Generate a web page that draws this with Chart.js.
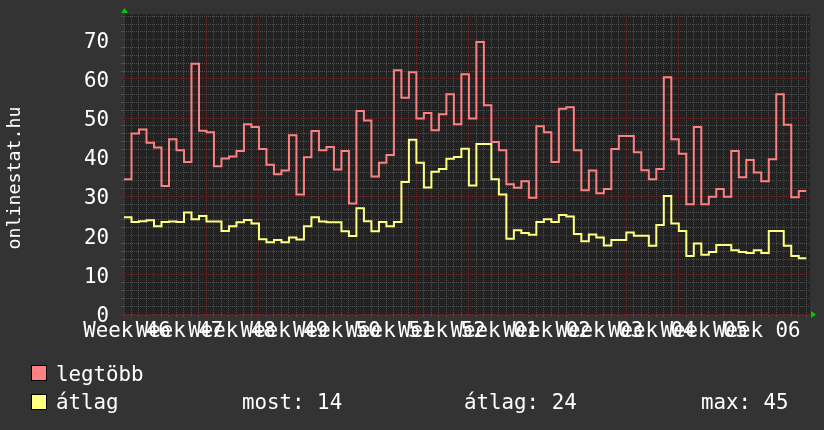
<!DOCTYPE html>
<html>
<head>
<meta charset="utf-8">
<script src="https://cdn.jsdelivr.net/npm/chart.js@4.4.1/dist/chart.umd.min.js"></script>
<style>
    html, body { margin: 0; padding: 0; background: #333333; }
    #wrap { position: relative; width: 824px; height: 430px; background: #333333; overflow: hidden;
            font-family: 'DejaVu Sans Mono', monospace; color: #ffffff; }
    #statChart { position: absolute; left: 0; top: 0; }
    .txt { position: absolute; font-size: 20.8px; line-height: 24px; white-space: pre; }
    .box { position: absolute; width: 16px; height: 16px; box-sizing: border-box; border: 1px solid #000; }
    #ytitle { position: absolute; left: -86px; top: 166px; width: 200px; height: 24px; line-height: 24px;
              text-align: center; font-size: 18.3px; transform: rotate(-90deg); white-space: pre; }
</style>
</head>
<body>
<div id="wrap">
    <canvas id="statChart" width="824" height="345"></canvas>
    <div id="ytitle">onlinestat.hu</div>
    <div class="box" style="left:31px; top:365px; background:#ff8080;"></div>
    <div class="txt" style="left:56px; top:361.5px;">legtöbb</div>
    <div class="box" style="left:31px; top:394px; background:#ffff80;"></div>
    <div class="txt" style="left:56px; top:390px;">átlag</div>
    <div class="txt" style="left:242px; top:390px;" id="most"></div>
    <div class="txt" style="left:464px; top:390px;" id="atlag"></div>
    <div class="txt" style="left:701px; top:390px;" id="max"></div>
</div>
<script>
// napi értékek (91 nap)
const legtobb = [
    34.4, 46.1, 47.1, 43.7, 42.5, 32.7, 44.6, 41.8, 38.8, 63.9,
    46.8, 46.4, 37.7, 39.7, 40.2, 41.6, 48.4, 47.7, 42.1, 38.1,
    35.7, 36.6, 45.6, 30.5, 40.0, 46.7, 41.8, 42.6, 36.9, 41.6,
    28.2, 51.8, 49.4, 35.1, 38.6, 40.6, 62.2, 55.2, 61.7, 49.9,
    51.3, 46.9, 51.0, 56.1, 48.4, 61.2, 49.9, 69.4, 53.3, 43.9,
    41.8, 33.1, 32.2, 33.9, 29.7, 47.9, 46.4, 38.8, 52.4, 52.8,
    41.8, 31.6, 36.6, 30.8, 31.9, 42.1, 45.4, 45.4, 41.3, 36.7,
    34.4, 37.0, 60.4, 44.6, 40.9, 28.0, 47.7, 28.0, 29.9, 31.9,
    29.9, 41.6, 34.9, 39.3, 36.1, 33.9, 39.5, 56.1, 48.3, 29.8,
    31.4
];
const atlag = [
    24.7, 23.5, 23.7, 23.9, 22.4, 23.5, 23.6, 23.5, 25.9, 24.2,
    25.0, 23.6, 23.6, 21.2, 22.4, 23.4, 24.0, 23.1, 19.1, 18.3,
    18.9, 18.3, 19.5, 19.0, 22.4, 24.7, 23.6, 23.4, 23.4, 21.1,
    19.9, 27.0, 23.7, 21.1, 23.5, 22.4, 23.5, 33.7, 44.5, 38.6,
    32.3, 36.3, 37.0, 39.6, 40.1, 42.2, 32.8, 43.4, 43.4, 34.4,
    30.5, 19.2, 21.4, 20.7, 20.2, 23.5, 24.2, 23.5, 25.3, 24.9,
    20.4, 18.6, 20.3, 19.5, 17.5, 18.9, 18.9, 20.8, 20.0, 20.0,
    17.4, 22.7, 30.1, 23.1, 21.2, 14.8, 18.0, 15.1, 15.8, 17.6,
    17.6, 16.3, 15.8, 15.6, 16.3, 15.6, 21.2, 21.2, 17.4, 14.8,
    14.2
];
const weekLabels = ['Week 46', 'Week 47', 'Week 48', 'Week 49', 'Week 50', 'Week 51', 'Week 52',
                    'Week 01', 'Week 02', 'Week 03', 'Week 04', 'Week 05', 'Week 06'];
const yTicks = [0, 10, 20, 30, 40, 50, 60, 70];
const summary = { most: 14, atlag: 24, max: 45 };

document.getElementById('most').textContent = 'most: ' + summary.most;
document.getElementById('atlag').textContent = 'átlag: ' + summary.atlag;
document.getElementById('max').textContent = 'max: ' + summary.max;

const FONT = { family: 'DejaVu Sans Mono', size: 20.8 };
const GRID = '#4e4e4e';
const MGRID = '#652b2b';
const firstMonday = 4; // első hétkezdő nap a tengelyen

// lépcsős vonal: minden nap egy vízszintes szakasz, utolsó pont lezárja
function toSteps(arr) {
    const pts = arr.map((v, i) => ({ x: i, y: v }));
    pts.push({ x: arr.length, y: arr[arr.length - 1] });
    return pts;
}

const canvasBg = {
    id: 'canvasBg',
    beforeDraw(chart) {
        const { ctx, chartArea: a } = chart;
        ctx.save();
        ctx.fillStyle = '#222222';
        ctx.fillRect(a.left, a.top, a.right - a.left, a.bottom - a.top);
        ctx.restore();
    },
    afterDraw(chart) {
        const { ctx, chartArea: a } = chart;
        ctx.save();
        ctx.fillStyle = '#00c800';
        ctx.beginPath();
        ctx.moveTo(a.left - 3, a.top - 1);
        ctx.lineTo(a.left + 4, a.top - 1);
        ctx.lineTo(a.left + 0.5, a.top - 6);
        ctx.fill();
        ctx.beginPath();
        ctx.moveTo(a.right + 1, a.bottom - 3);
        ctx.lineTo(a.right + 1, a.bottom + 4);
        ctx.lineTo(a.right + 6, a.bottom + 0.5);
        ctx.fill();
        ctx.restore();
    }
};

const days = Array.from({ length: legtobb.length + 1 }, (_, i) => i);
const yGrid = Array.from({ length: 39 }, (_, i) => i * 2);

new Chart(document.getElementById('statChart'), {
    type: 'line',
    data: {
        datasets: [
            {
                label: 'legtöbb',
                data: toSteps(legtobb),
                borderColor: '#ff8080',
                borderWidth: 2,
                stepped: 'before',
                pointRadius: 0,
                fill: false
            },
            {
                label: 'átlag',
                data: toSteps(atlag),
                borderColor: '#ffff80',
                borderWidth: 2,
                stepped: 'before',
                pointRadius: 0,
                fill: false
            }
        ]
    },
    options: {
        responsive: false,
        animation: false,
        events: [],
        layout: { padding: { top: 14, right: 14, left: 0, bottom: 0 } },
        plugins: { legend: { display: false }, tooltip: { enabled: false } },
        scales: {
            x: {
                type: 'linear',
                min: 0,
                max: 91.5,
                afterBuildTicks: s => { s.ticks = days.map(d => ({ value: d })); },
                afterFit: s => { s.height = 31; s.paddingLeft = 0; s.paddingRight = 0; },
                grid: {
                    color: c => (c.tick && (c.tick.value - firstMonday) % 7 === 0) ? MGRID : GRID,
                    lineWidth: 1,
                    drawTicks: true,
                    tickLength: 3
                },
                border: { display: false, dash: [1, 1] },
                ticks: {
                    autoSkip: false,
                    maxRotation: 0,
                    minRotation: 0,
                    labelOffset: 3,
                    padding: 2,
                    color: '#ffffff',
                    font: FONT,
                    callback: v => (v % 7 === 0 && weekLabels[v / 7]) ? weekLabels[v / 7] : ''
                }
            },
            y: {
                min: 0,
                max: 76.57,
                afterBuildTicks: s => { s.ticks = yGrid.map(v => ({ value: v })); },
                afterFit: s => { s.width = 124; s.paddingTop = 0; s.paddingBottom = 0; },
                grid: {
                    color: c => (c.tick && yTicks.includes(c.tick.value)) ? MGRID : GRID,
                    lineWidth: 1,
                    drawTicks: true,
                    tickLength: 3
                },
                border: { display: false, dash: [1, 1] },
                ticks: {
                    autoSkip: false,
                    padding: 12,
                    labelOffset: 2.5,
                    color: '#ffffff',
                    font: FONT,
                    callback: v => yTicks.includes(v) ? String(v) : ''
                }
            }
        }
    },
    plugins: [canvasBg]
});
</script>
</body>
</html>
